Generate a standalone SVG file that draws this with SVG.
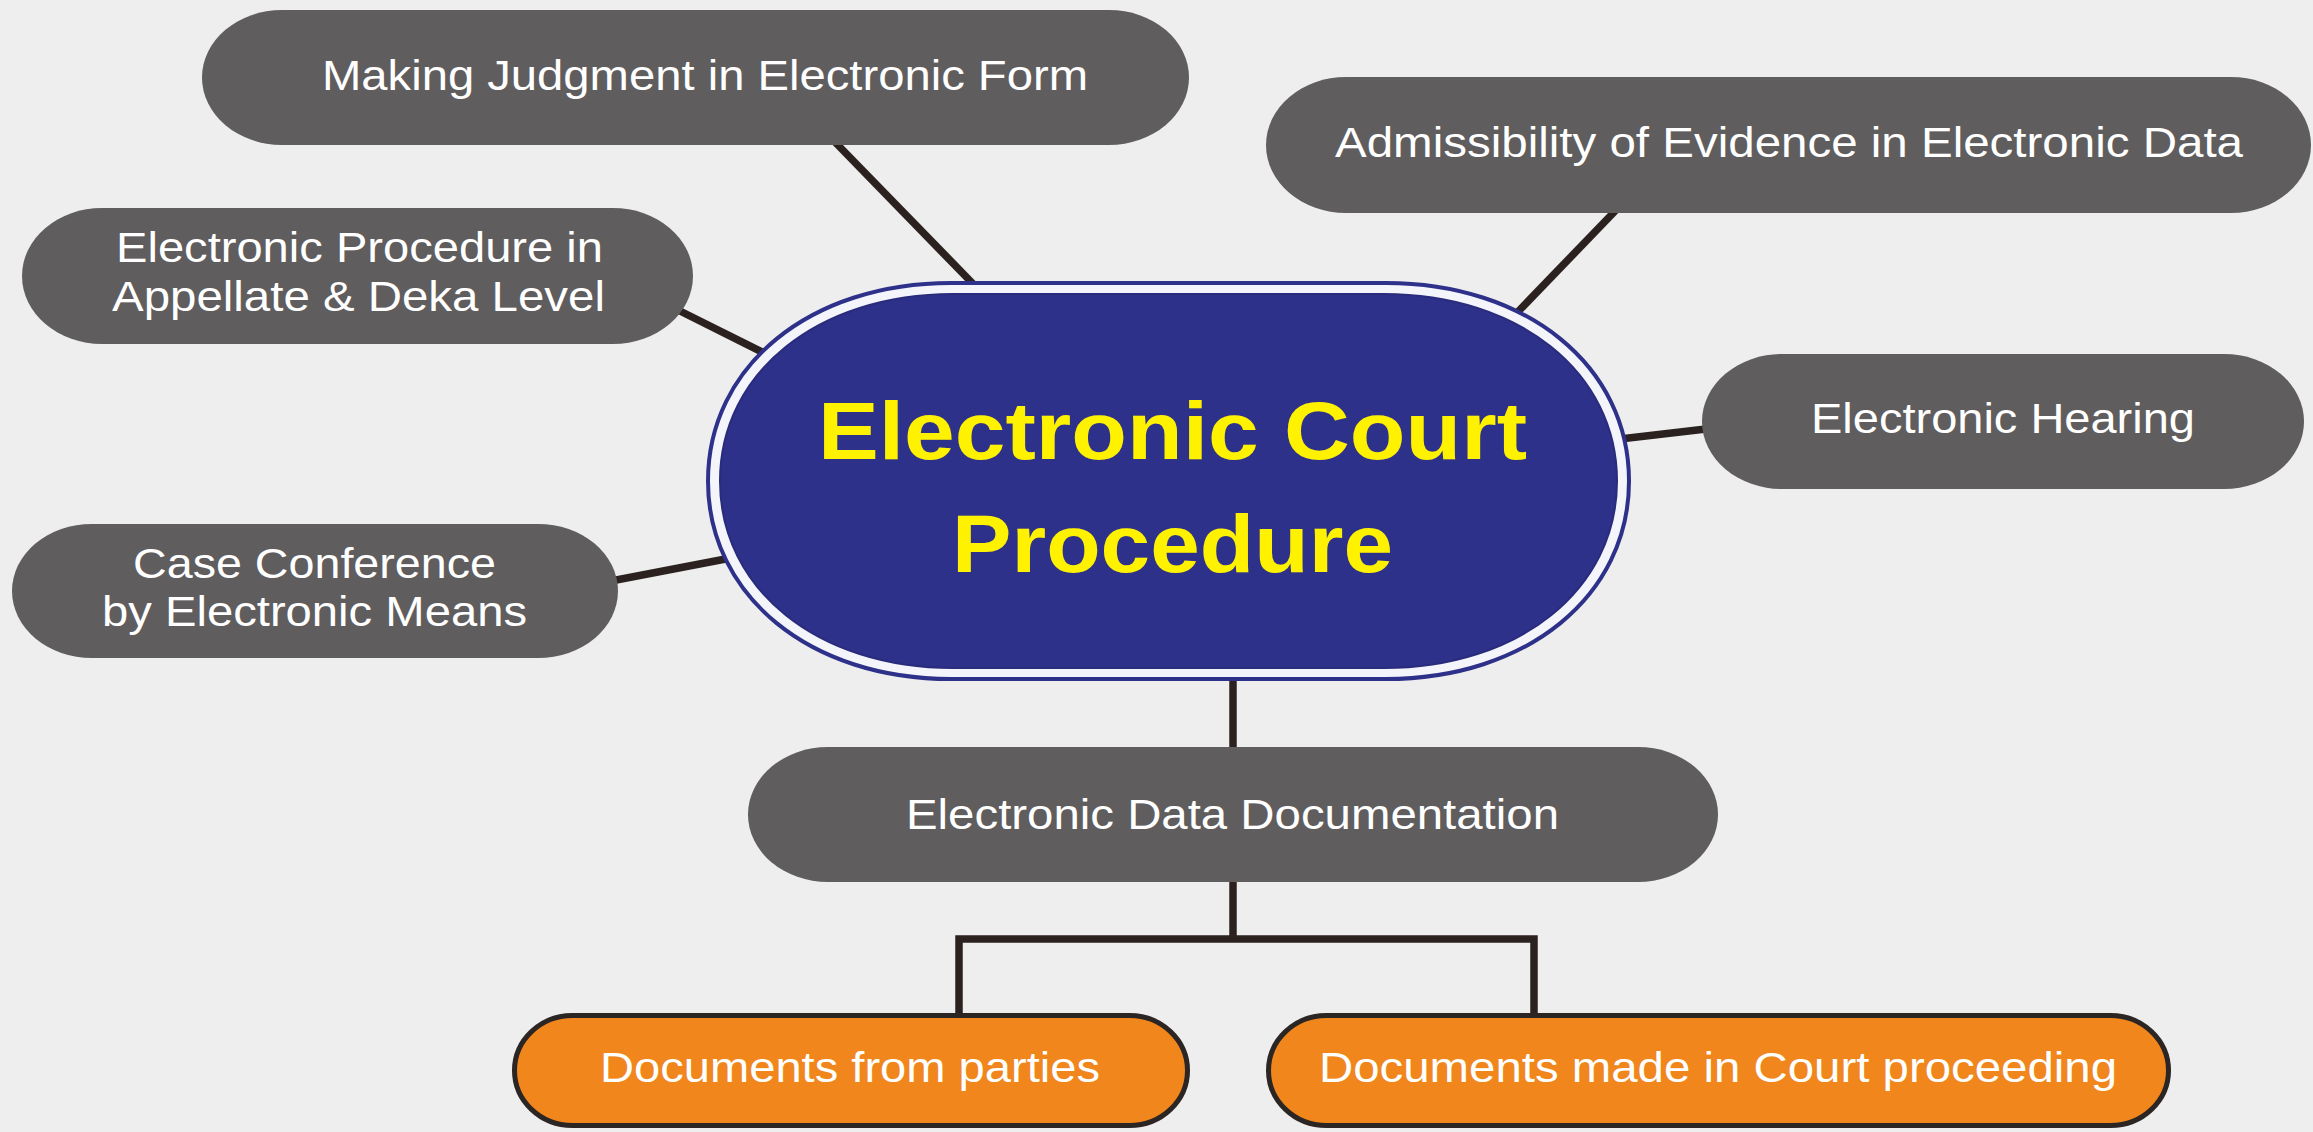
<svg xmlns="http://www.w3.org/2000/svg" width="2313" height="1132" viewBox="0 0 2313 1132">
  <style>
    .bg { fill: #eeeeee; }
    .conn { stroke: #2b2220; stroke-width: 7.5; fill: none; stroke-linecap: butt; stroke-linejoin: miter; }
    .pill { fill: #5f5d5e; }
    .opill { fill: #f0861c; stroke: #2b2523; stroke-width: 5; }
    .lbl { font-family: "Liberation Sans", Arial, sans-serif; font-size: 42px; fill: #ffffff; text-anchor: middle; }
    .title { font-family: "Liberation Sans", Arial, sans-serif; font-size: 82px; font-weight: bold; fill: #fff200; text-anchor: middle; }
  </style>
  <rect class="bg" x="0" y="0" width="2313" height="1132"/>

  <g id="connectors">
    <path class="conn" d="M 833 140 L 980 291"/>
    <path class="conn" d="M 1618 208 L 1510 320"/>
    <path class="conn" d="M 676 309 L 770 356"/>
    <path class="conn" d="M 1620 439 L 1706 429"/>
    <path class="conn" d="M 611 581 L 736 557"/>
    <path class="conn" d="M 1233 675 L 1233 750"/>
    <path class="conn" d="M 1233 880 L 1233 939"/>
    <path class="conn" d="M 959 1016 V 939 H 1534 V 1016"/>
  </g>

  <g id="center">
    <path d="M 951 283 H 1386 C 1527 283 1629 366 1629 481 C 1629 596 1527 679 1386 679 H 951 C 810 679 708 596 708 481 C 708 366 810 283 951 283 Z" fill="#f4f4fb" stroke="#2e3189" stroke-width="4"/>
    <path d="M 953 294 H 1384 C 1519 294 1617 372.5 1617 481 C 1617 589.5 1519 668 1384 668 H 953 C 818 668 720 589.5 720 481 C 720 372.5 818 294 953 294 Z" fill="#2e3189" stroke="#292b7c" stroke-width="2"/>
    <text class="title" x="1172.5" y="459" textLength="709" lengthAdjust="spacingAndGlyphs">Electronic Court</text>
    <text class="title" x="1172.5" y="572" textLength="441" lengthAdjust="spacingAndGlyphs">Procedure</text>
  </g>

  <g id="node-judgment">
    <rect class="pill" x="202" y="10" width="987" height="135" rx="80" ry="67.5"/>
    <text class="lbl" x="705" y="90" textLength="766" lengthAdjust="spacingAndGlyphs">Making Judgment in Electronic Form</text>
  </g>

  <g id="node-admissibility">
    <rect class="pill" x="1266" y="77" width="1045" height="136" rx="80" ry="68"/>
    <text class="lbl" x="1789" y="157" textLength="908" lengthAdjust="spacingAndGlyphs">Admissibility of Evidence in Electronic Data</text>
  </g>

  <g id="node-appellate">
    <rect class="pill" x="22" y="208" width="671" height="136" rx="80" ry="68"/>
    <text class="lbl" x="359.5" y="262" textLength="487" lengthAdjust="spacingAndGlyphs">Electronic Procedure in</text>
    <text class="lbl" x="358.5" y="311" textLength="493" lengthAdjust="spacingAndGlyphs">Appellate &amp; Deka Level</text>
  </g>

  <g id="node-hearing">
    <rect class="pill" x="1702" y="354" width="602" height="135" rx="80" ry="67.5"/>
    <text class="lbl" x="2003" y="433" textLength="384" lengthAdjust="spacingAndGlyphs">Electronic Hearing</text>
  </g>

  <g id="node-conference">
    <rect class="pill" x="12" y="524" width="606" height="134" rx="80" ry="67"/>
    <text class="lbl" x="314.5" y="578" textLength="363" lengthAdjust="spacingAndGlyphs">Case Conference</text>
    <text class="lbl" x="314.5" y="626" textLength="425" lengthAdjust="spacingAndGlyphs">by Electronic Means</text>
  </g>

  <g id="node-documentation">
    <rect class="pill" x="748" y="747" width="970" height="135" rx="80" ry="67.5"/>
    <text class="lbl" x="1232.5" y="829" textLength="653" lengthAdjust="spacingAndGlyphs">Electronic Data Documentation</text>
  </g>

  <g id="node-parties">
    <rect class="opill" x="514.5" y="1015.5" width="673" height="110" rx="58" ry="55"/>
    <text class="lbl" x="850" y="1082" textLength="500" lengthAdjust="spacingAndGlyphs">Documents from parties</text>
  </g>

  <g id="node-court">
    <rect class="opill" x="1268.5" y="1015.5" width="900" height="110" rx="58" ry="55"/>
    <text class="lbl" x="1718" y="1082" textLength="798" lengthAdjust="spacingAndGlyphs">Documents made in Court proceeding</text>
  </g>
</svg>
